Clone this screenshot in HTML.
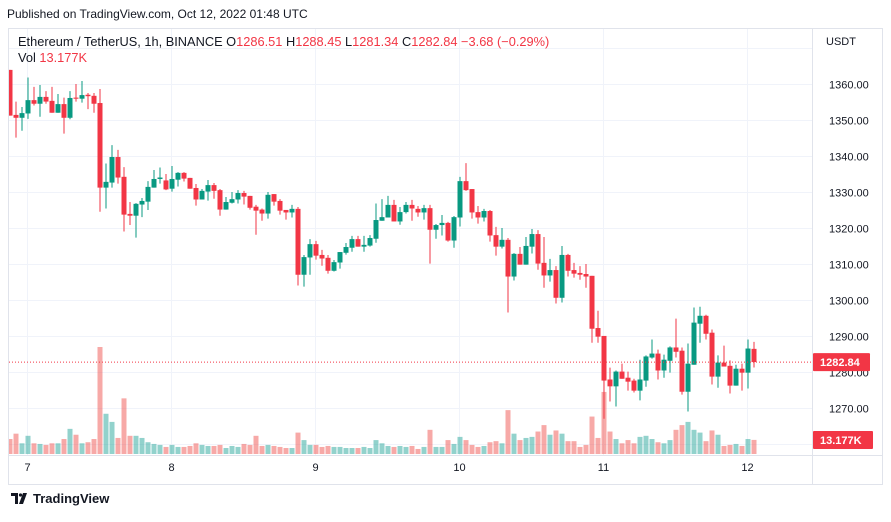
<!DOCTYPE html>
<html><head><meta charset="utf-8"><style>
body{margin:0;background:#fff;font-family:"Liberation Sans",sans-serif;}
svg text{font-family:"Liberation Sans",sans-serif;}
</style></head><body>
<svg id="chart" width="891" height="517" viewBox="0 0 891 517" xmlns="http://www.w3.org/2000/svg">
<rect x="0" y="0" width="891" height="517" fill="#fff"/>
<text x="7" y="18" font-size="12" fill="#131722">Published on TradingView.com, Oct 12, 2022 01:48 UTC</text>
<rect x="8.5" y="28.5" width="874" height="456" fill="none" stroke="#e0e3eb"/>
<g id="grid"></g>
<g id="vols" clip-path="url(#clip)"></g>
<g id="candles" clip-path="url(#clip)"></g>
<defs><clipPath id="clip"><rect x="9" y="29" width="803" height="426"/></clipPath></defs>
<line x1="812.5" y1="29" x2="812.5" y2="484" stroke="#e0e3eb"/>
<line x1="9" y1="455.5" x2="882" y2="455.5" stroke="#e0e3eb"/>
<g id="yaxis"></g>
<g id="xaxis"></g>
<text x="826" y="45" font-size="11" fill="#131722">USDT</text>
<g>
<text x="18" y="46" font-size="12.8" fill="#131722">Ethereum / TetherUS, 1h, BINANCE <tspan fill="#f23645"><tspan fill="#131722">O</tspan>1286.51 <tspan fill="#131722">H</tspan>1288.45 <tspan fill="#131722">L</tspan>1281.34 <tspan fill="#131722">C</tspan>1282.84 −3.68 (−0.29%)</tspan></text>
<text x="18" y="62" font-size="12.8" fill="#131722">Vol <tspan fill="#f23645">13.177K</tspan></text>
</g>
<g id="labels"></g>
<g>
<path d="M11 493h7v11h-3v-8h-4z M19 504l4-11h4l-4 11z" fill="#131722"/>
<circle cx="20.5" cy="495" r="1.6" fill="#131722"/>
<text x="33" y="503" font-size="13" font-weight="bold" fill="#131722">TradingView</text>
</g>
</svg>
<script>
const opens=[1364,1351.5,1350.7,1351.9,1355.6,1354.6,1356.5,1355.4,1352.1,1354.5,1350.7,1356.3,1356,1357.1,1356.8,1354.8,1331.3,1332.7,1339.8,1334.3,1324,1323.5,1326.6,1327.4,1331.3,1333.7,1333.3,1331,1333.5,1335.4,1334,1331.2,1328,1330.2,1332,1330.6,1325.2,1327.1,1328,1329.8,1329,1326,1325.2,1324.1,1329.5,1327.6,1325.1,1324.4,1325.4,1307.1,1311.9,1315.6,1312.6,1311.8,1308.2,1310.5,1313.2,1314.6,1317,1314.9,1315.2,1317.1,1322.1,1323,1326.5,1321.9,1324.5,1326.5,1325.4,1324.4,1325.6,1319.6,1320.9,1321.5,1316.6,1323,1333.1,1330.9,1324.5,1323,1324.8,1318.1,1314.9,1316.8,1306.6,1312.9,1309.9,1314.9,1318.4,1310.4,1306.9,1308.4,1300.7,1312.6,1308.4,1307.6,1307.3,1306.8,1292.3,1290.1,1278,1276.1,1280.2,1278.5,1277.7,1274.9,1277.7,1284.1,1285.2,1280.5,1283.2,1286.9,1286,1274.6,1282.1,1293.5,1295.7,1291,1278.8,1282.7,1281.8,1276.3,1281,1279.9,1286.51];
const highs=[1364,1355.2,1353.7,1361.9,1359.3,1359.8,1358.1,1359.3,1357.3,1356.3,1358.1,1360.1,1360.9,1357.6,1357.6,1358.7,1338,1343.1,1341.8,1337,1327.3,1327,1328.4,1333.1,1336.2,1336.9,1335.1,1337.3,1335.6,1335.6,1334,1332.3,1330.9,1333.4,1332.6,1330.9,1328.7,1330.1,1330.6,1330.4,1329,1326.5,1325.5,1330.1,1329.5,1328.1,1325.1,1326.5,1325.9,1312.6,1317,1316.5,1314,1312.6,1311.2,1313.4,1315.9,1317.9,1317.9,1317.9,1318.1,1326.9,1328.1,1329,1327.9,1325.9,1327.3,1327.9,1326.2,1326.5,1326.5,1321.2,1323.7,1321.8,1323.4,1334.3,1338.1,1330.9,1326.2,1325.4,1325.1,1320.4,1320.1,1317.3,1313.1,1314.8,1317.6,1319.8,1319.5,1317.6,1311.5,1309.5,1315.1,1312.9,1310.4,1309.5,1310.1,1306.8,1297.1,1290.1,1281.3,1280.5,1282.4,1280.2,1278.2,1283.5,1284.7,1289.1,1286.3,1284.9,1287.2,1294.9,1286.9,1288,1298,1298.2,1296,1291.9,1284.7,1287.4,1283.3,1282.1,1282.4,1289.1,1288.45];
const lows=[1351.3,1345.2,1347.1,1350.4,1354.1,1351,1354.6,1352.1,1352.1,1346.3,1350.3,1355.2,1354.9,1353.1,1352.1,1324.6,1325.5,1331.3,1332.4,1319.1,1320.9,1317.4,1323.1,1325.1,1331.3,1332.4,1330.6,1330.2,1331.6,1333,1331,1326.3,1328,1327.7,1328.2,1323.5,1325.2,1326.9,1326.9,1326.6,1325.2,1318.2,1322.1,1322.7,1326.3,1323.8,1322.4,1323,1304.1,1303.8,1307.1,1311.3,1309.6,1307.4,1308,1308.8,1312.7,1313.5,1314.9,1313.5,1314.9,1316,1322.1,1323,1321.9,1321,1324.1,1322.1,1323.2,1322.4,1310.2,1317.1,1318,1316.3,1314.6,1320.5,1330.4,1322.7,1321.3,1321.9,1316.3,1312.4,1314.4,1296.6,1305.5,1309.9,1309.9,1313,1308.5,1303.5,1305.2,1299.1,1299.4,1306.6,1306.3,1305.7,1303.5,1288.2,1288.2,1267.1,1271.9,1270.5,1278.2,1274.9,1274.4,1272.2,1276,1283.8,1278,1278.5,1279.9,1284.1,1273.8,1269.1,1282.1,1288.2,1289.1,1276.6,1275.7,1281.6,1274.1,1276.3,1274.9,1275.5,1281.34];
const closes=[1351.3,1350.7,1352,1355.6,1354.6,1356.5,1355.2,1352.1,1354.5,1350.7,1356.2,1356,1357,1356.7,1354.6,1331.3,1332.9,1339.8,1334.1,1323.8,1323.5,1326.8,1327.6,1331.5,1333.7,1334.1,1330.8,1333.7,1335.4,1333.8,1331,1328,1330.4,1332,1330.4,1325.2,1327.3,1328.1,1329.8,1328.8,1325.7,1324.9,1324.1,1329.3,1327.4,1324.9,1324.4,1325.4,1307.1,1312,1315.6,1312.4,1311.6,1308.2,1310.6,1313.4,1314.8,1317,1314.9,1315.4,1317.3,1322.3,1323.1,1326.5,1321.9,1324.5,1326.5,1325.5,1324.4,1325.6,1319.6,1320.9,1321.5,1316.6,1323.1,1333.1,1330.6,1324.4,1323,1324.8,1318,1314.9,1316.8,1306.6,1312.9,1309.9,1315.1,1318.4,1310.2,1306.9,1308.4,1300.7,1312.6,1308.2,1307.4,1307.1,1306.6,1292.1,1289.9,1277.7,1276.1,1280.2,1278.2,1277.4,1274.9,1278,1284.4,1285.2,1280.5,1283.5,1286.9,1285.7,1274.6,1282.4,1293.8,1295.7,1290.7,1278.8,1282.7,1281.6,1276.3,1281,1279.9,1286.6,1282.84];
const volumes=[14,19,10,17,10,9.4,8.5,10,10,14,23.5,18,10,11,14,100,37.6,30,15,52,17,17,15,11,9.4,8.5,6.6,8.5,6.6,6.6,7.5,10,8.5,7.5,7.5,8.5,5.6,7.5,6.6,9.4,8.5,17,7.5,8.5,7.5,6.6,5.6,5.6,20,13,8.5,8.5,6.6,7.5,6.6,6.6,5.6,5.6,5.6,6.6,5.6,13,10,7.5,6.6,7.5,6.6,7.5,4.7,6.6,22.6,6.6,6.6,13,9.4,16,13,8.5,6.6,7.5,11,12,10,41,19,13,15,16,21,27,18,22,19,12,12,6.6,8.5,35,15,58,21,14,10,13,10,16,17,14,11,10,13,22.6,27,30,22.6,20,12,22,18,7.5,8.5,9.4,7.5,14,13.177];
const priceTicks=[1370,1360,1350,1340,1330,1320,1310,1300,1290,1280,1270,1260];
const dayLabels=["7","8","9","10","11","12"];
const dayStartIndex=[3,27,51,75,99,123];

const NS="http://www.w3.org/2000/svg";
function mk(tag,attrs,parent){const e=document.createElementNS(NS,tag);for(const k in attrs)e.setAttribute(k,attrs[k]);parent.appendChild(e);return e;}
function xOf(i){return 9.3+6*i+0.7;}
function yOf(p){return 84.3+(1360-p)*3.6;}
function vY(v){return 454-v*1.07;}
const grid=document.getElementById('grid'),ya=document.getElementById('yaxis'),xa=document.getElementById('xaxis');
priceTicks.forEach(p=>{const y=Math.round(yOf(p))+0.5;
 const l=mk('line',{x1:9,x2:812,y1:y,y2:y,stroke:'#f0f3fa'},grid);
 
 
 if(y>50&&y<452){const t=mk('text',{x:829,y:y+4,'font-size':11,fill:'#131722'},ya);t.textContent=p.toFixed(2);
 
 }
});
dayLabels.forEach((d,k)=>{const x=Math.round(xOf(dayStartIndex[k])-0.7)+0.5;
 const l=mk('line',{x1:x,x2:x,y1:29,y2:455,stroke:'#f0f3fa'},grid);
 
 
 const t=mk('text',{x:x,y:471,'font-size':11,fill:'#131722','text-anchor':'middle'},xa);t.textContent=d;
 
 
});
const vg=document.getElementById('vols'),cg=document.getElementById('candles');
for(let i=0;i<opens.length;i++){
 const up=closes[i]>=opens[i];const x=xOf(i);
 const vb=mk('rect',{x:x-2.5,y:vY(volumes[i]),width:5,height:454-vY(volumes[i]),fill:up?'rgba(38,166,154,0.5)':'rgba(239,83,80,0.5)'},vg);
 
 
 const col=up?'#089981':'#f23645';
 const w=mk('line',{x1:x,x2:x,y1:yOf(highs[i]),y2:yOf(lows[i]),stroke:col,'stroke-width':1},cg);
 
 
 const top=yOf(Math.max(opens[i],closes[i])),bot=yOf(Math.min(opens[i],closes[i]));
 const b=mk('rect',{x:x-2.5,y:top,width:5,height:Math.max(1,bot-top),fill:col},cg);
 
 
}
const lg=document.getElementById('labels');
const last=closes[closes.length-1],ly=yOf(last);
const dl=mk('line',{x1:9,x2:812,y1:ly,y2:ly,stroke:'#f23645','stroke-dasharray':'1 2'},lg);


const pb=mk('rect',{x:813,y:ly-9,width:57,height:18,fill:'#f23645',rx:1},lg);


const pt=mk('text',{x:820,y:ly+4,'font-size':11,fill:'#fff','font-weight':'bold'},lg);pt.textContent=last.toFixed(2);


const vb2=mk('rect',{x:813,y:431,width:60,height:18,fill:'#f23645',rx:1},lg);


const vt=mk('text',{x:820,y:444,'font-size':11,fill:'#fff','font-weight':'bold'},lg);vt.textContent=volumes[volumes.length-1].toFixed(3)+'K';


</script>
</body></html>
